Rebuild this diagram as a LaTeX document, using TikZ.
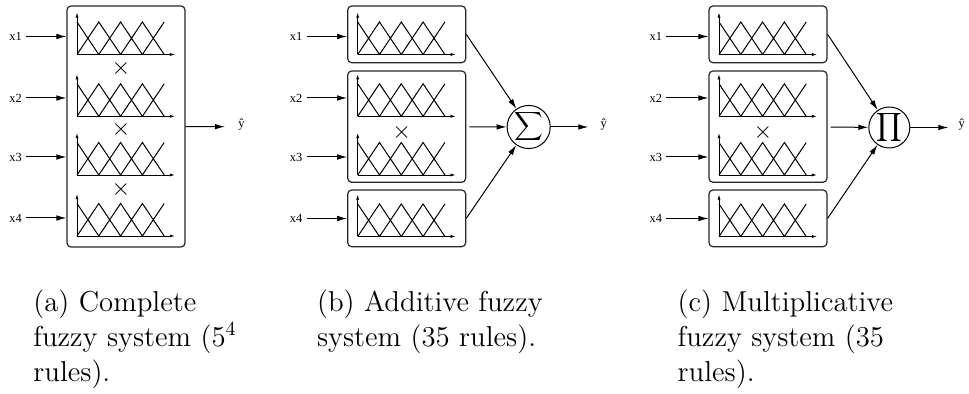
\documentclass[tikz,border=0pt]{standalone}
\usepackage{fontspec}
\newfontfamily\labelfont{Liberation Serif}
\usetikzlibrary{arrows.meta,positioning}

\tikzset{
  mfbox/.style={draw=black!85,line width=0.6pt,rounded corners=2pt,inner sep=0pt},
  mfline/.style={line width=0.5pt},
  mfaxis/.style={line width=0.45pt,-{Latex[length=2.6pt,width=1.6pt]}},
  sig/.style={line width=0.5pt,-{Latex[length=5pt,width=2.8pt]}},
  inlabel/.style={font=\labelfont\fontsize{6.2}{7}\selectfont,inner sep=2pt},
  andsign/.style={font=\fontsize{13}{13}\selectfont,inner sep=0pt},
  combine/.style={draw,circle,line width=0.5pt,minimum size=20.5pt,inner sep=0pt,
    font=\fontsize{7.6}{8}\selectfont},
  caption/.style={font=\fontsize{14.4}{17.5}\selectfont,align=left,anchor=north west,inner sep=0pt},
  pics/mfset/.style={code={
    \draw[mfaxis] (0,0) -- (98,0);
    \draw[mfaxis] (0,0) -- (0,-42);
    \draw[mfline] (0,-32.5) -- (21.8,0)
      (0,0) -- (21.8,-32.5) -- (43.6,0)
      (21.8,0) -- (43.6,-32.5) -- (65.4,0)
      (43.6,0) -- (65.4,-32.5) -- (87.2,0)
      (65.4,0) -- (87.2,-32.5);
  }}
}

\begin{document}
\begin{tikzpicture}[x=0.5pt,y=-0.5pt]
\useasboundingbox (0,0) rectangle (969,394);
% (a) complete system
\node[mfbox,minimum width=59pt,minimum height=120.5pt] (abox) at (126,126.5) {};
\pic at (77,54.5) {mfset};
\pic at (77,116.3) {mfset};
\pic at (77,175) {mfset};
\pic at (77,236) {mfset};
\node[andsign] (aand1) at (121,69) {$\times$};
\node[andsign] (aand2) at (121,130) {$\times$};
\node[andsign] (aand3) at (121,190) {$\times$};
\node[inlabel] (ax1) at (15.5,36.5) {x1};
\node[inlabel] (ax2) at (15.5,98) {x2};
\node[inlabel] (ax3) at (15.5,157) {x3};
\node[inlabel] (ax4) at (15.5,218) {x4};
\draw[sig] (ax1) -- (ax1 -| abox.west);
\draw[sig] (ax2) -- (ax2 -| abox.west);
\draw[sig] (ax3) -- (ax3 -| abox.west);
\draw[sig] (ax4) -- (ax4 -| abox.west);
\coordinate (aout) at (225,126.7);
\draw[sig] (abox) -- (aout);
\node[inlabel] (ayhat) at (241.5,125) {\^y};
% (b) additive system
\node[mfbox,minimum width=59pt,minimum height=28.35pt] (bbox1) at (406.7,34.35) {};
\node[mfbox,minimum width=59pt,minimum height=55.65pt] (bbox2) at (406.7,126.65) {};
\node[mfbox,minimum width=59pt,minimum height=28.35pt] (bbox3) at (406.7,218.35) {};
\pic at (357.7,54.5) {mfset};
\pic at (357.7,116.3) {mfset};
\pic at (357.7,175) {mfset};
\pic at (357.7,236.5) {mfset};
\node[andsign] (band) at (401.7,133) {$\times$};
\node[inlabel] (bx1) at (296,36.5) {x1};
\node[inlabel] (bx2) at (296,98) {x2};
\node[inlabel] (bx3) at (296,157) {x3};
\node[inlabel] (bx4) at (296,218.5) {x4};
\draw[sig] (bx1) -- (bx1 -| bbox1.west);
\draw[sig] (bx2) -- (bx2 -| bbox2.west);
\draw[sig] (bx3) -- (bx3 -| bbox2.west);
\draw[sig] (bx4) -- (bx4 -| bbox3.west);
\node[combine] (bsum) at (528.7,127) {$\displaystyle\sum$};
\draw[sig] (bbox1.east) -- (bsum);
\draw[sig,shorten <=1.5pt] (bbox2) -- (bsum);
\draw[sig] (bbox3.east) -- (bsum);
\coordinate (bout) at (588.3,127);
\draw[sig] (bsum) -- (bout);
\node[inlabel] (byhat) at (603.7,125) {\^y};
% (c) multiplicative system
\node[mfbox,minimum width=59pt,minimum height=28.35pt] (cbox1) at (768,34.35) {};
\node[mfbox,minimum width=59pt,minimum height=55.65pt] (cbox2) at (768,126.65) {};
\node[mfbox,minimum width=59pt,minimum height=28.35pt] (cbox3) at (768,218.35) {};
\pic at (719,54.5) {mfset};
\pic at (719,116.3) {mfset};
\pic at (719,175) {mfset};
\pic at (719,236.5) {mfset};
\node[andsign] (cand) at (763,133) {$\times$};
\node[inlabel] (cx1) at (655.8,36.5) {x1};
\node[inlabel] (cx2) at (655.8,98) {x2};
\node[inlabel] (cx3) at (655.8,157) {x3};
\node[inlabel] (cx4) at (655.8,218.5) {x4};
\draw[sig] (cx1) -- (cx1 -| cbox1.west);
\draw[sig] (cx2) -- (cx2 -| cbox2.west);
\draw[sig] (cx3) -- (cx3 -| cbox2.west);
\draw[sig] (cx4) -- (cx4 -| cbox3.west);
\node[combine] (cprod) at (889.3,127.5) {$\displaystyle\prod$};
\draw[sig] (cbox1.east) -- (cprod);
\draw[sig,shorten <=1.5pt] (cbox2) -- (cprod);
\draw[sig] (cbox3.east) -- (cprod);
\coordinate (cout) at (948.3,127.5);
\draw[sig] (cprod) -- (cout);
\node[inlabel] (cyhat) at (961.7,125) {\^y};
% captions
\node[caption] (acap) at (33,289.4) {(a) Complete\\fuzzy system ($5^4$\\rules).};
\node[caption] (bcap) at (316.7,289.4) {(b) Additive fuzzy\\system (35 rules).};
\node[caption] (ccap) at (677.3,289.4) {(c) Multiplicative\\fuzzy system (35\\rules).};
\end{tikzpicture}
\end{document}
